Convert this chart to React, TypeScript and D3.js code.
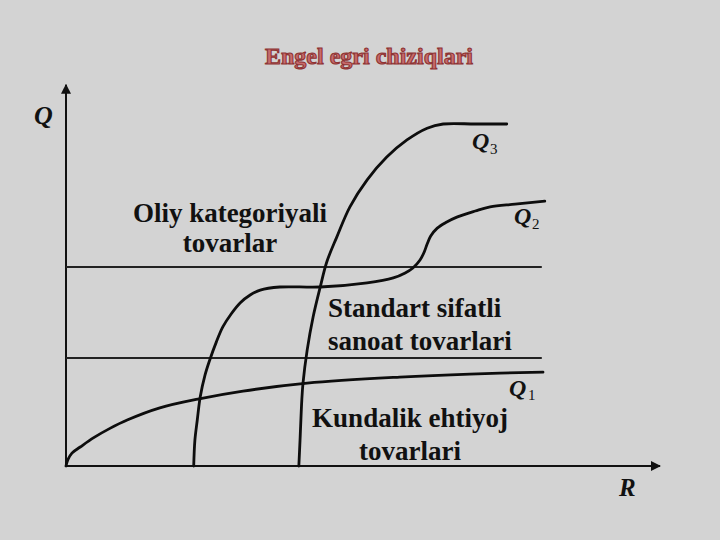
import React from "react";
import * as d3 from "d3";

// Engel curves: [R (income), Q (quantity)]
const q1Points: [number, number][] = [
  [0, 0], [0.3, 1.6], [1.0, 3.4], [2.4, 5.0], [4.6, 7.4], [7.4, 9.9], [10.3, 12.1],
  [15.8, 15.3], [22.2, 17.6], [29.8, 19.7], [40.6, 21.8], [56.2, 23.4], [68.0, 24.2], [80.3, 24.7],
];
const q2Points: [number, number][] = [
  [21.5, 0], [21.7, 6.8], [22.1, 12.1], [22.6, 18.2], [23.4, 23.9], [24.2, 27.9],
  [25.3, 32.6], [26.4, 36.6], [27.8, 40.0], [29.3, 42.9], [31.0, 45.0], [32.7, 46.3],
  [36.0, 47.1], [42.8, 47.1], [50.7, 48.2], [55.1, 49.5], [57.1, 50.8], [58.4, 52.1],
  [59.6, 54.2], [60.3, 56.3], [60.8, 58.4], [61.4, 60.5], [62.5, 62.6], [64.1, 64.2],
  [65.8, 65.5], [68.9, 67.1], [71.4, 68.2], [75.6, 68.9], [80.6, 69.7],
];
const q3Points: [number, number][] = [
  [39.2, 0], [39.4, 6.8], [39.7, 17.4], [39.9, 21.8], [40.6, 30.5], [41.6, 39.2],
  [42.8, 47.1], [43.9, 53.7], [45.6, 60.3], [47.8, 68.2], [50.7, 75.3], [54.0, 81.3],
  [57.4, 85.8], [60.8, 88.9], [63.5, 90.0], [68.9, 90.0], [74.2, 90.0],
];
// category boundaries (Q levels) and their extent in R
const boundaryLevels = [28.4, 52.4];
const boundaryEnd = 80.1;

const title = "Engel egri chiziqlari";
const yAxisLabel = "Q";
const xAxisLabel = "R";
const curveNames = ["1", "2", "3"];
const zoneLabels = [
  ["Oliy kategoriyali", "tovarlar"],
  ["Standart sifatli", "sanoat tovarlari"],
  ["Kundalik ehtiyoj", "tovarlari"],
];

const W = 720;
const H = 540;

export default function App() {
  const x = d3.scaleLinear().domain([0, 100]).range([66, 660]);
  const y = d3.scaleLinear().domain([0, 100]).range([466, 86]);

  const line = d3
    .line<[number, number]>()
    .x((d) => x(d[0]))
    .y((d) => y(d[1]))
    .curve(d3.curveCatmullRom.alpha(0.5));

  const serif = "'Liberation Serif', 'Times New Roman', serif";
  const textFill = "#111";

  const curves = [q1Points, q2Points, q3Points];
  const curveLabelPos = [
    { x: 509, y: 396, sx: 528, sy: 400 },
    { x: 514, y: 224, sx: 532, sy: 229 },
    { x: 472, y: 149, sx: 490, sy: 154 },
  ];

  return (
    <svg
      width={W}
      height={H}
      style={{ position: "absolute", left: 0, top: 0, display: "block" }}
    >
      <defs>
        <marker
          id="arrow"
          viewBox="0 0 10 10"
          refX="9"
          refY="5"
          markerWidth="10"
          markerHeight="10"
          markerUnits="userSpaceOnUse"
          orient="auto"
        >
          <path d="M0,0 L10,5 L0,10 z" fill="#111" />
        </marker>
      </defs>
      <rect x={0} y={0} width={W} height={H} fill="#d3d3d3" />

      <text
        x={369}
        y={64}
        textAnchor="middle"
        fontFamily={serif}
        fontWeight="bold"
        fontSize={24}
        fill="#c86b6b"
        stroke="#8e3434"
        strokeWidth={1.1}
      >
        {title}
      </text>

      {/* axes */}
      <line x1={x(0)} y1={y(0)} x2={x(0)} y2={y(100.3)} stroke="#111" strokeWidth={2} markerEnd="url(#arrow)" />
      <line x1={x(0)} y1={y(0)} x2={x(100)} y2={y(0)} stroke="#111" strokeWidth={2} markerEnd="url(#arrow)" />

      <text x={34} y={124} fontFamily={serif} fontWeight="bold" fontStyle="italic" fontSize={26} fill={textFill}>
        {yAxisLabel}
      </text>
      <text x={619} y={496} fontFamily={serif} fontWeight="bold" fontStyle="italic" fontSize={25} fill={textFill}>
        {xAxisLabel}
      </text>

      {/* boundaries */}
      {boundaryLevels.map((lv, i) => (
        <line key={i} x1={x(0)} x2={x(boundaryEnd)} y1={y(lv)} y2={y(lv)} stroke="#222" strokeWidth={2} />
      ))}

      {/* curves */}
      {curves.map((c, i) => (
        <path key={i} d={line(c) ?? ""} fill="none" stroke="#0d0d0d" strokeWidth={2.8} strokeLinecap="round" />
      ))}

      {curves.map((_, i) => (
        <g key={i} fontFamily={serif} fontWeight="bold" fill={textFill}>
          <text x={curveLabelPos[i].x} y={curveLabelPos[i].y} fontStyle="italic" fontSize={24}>
            Q
          </text>
          <text x={curveLabelPos[i].sx} y={curveLabelPos[i].sy} fontSize={15} fontWeight="normal">
            {curveNames[i]}
          </text>
        </g>
      ))}

      {/* zone labels */}
      <g fontFamily={serif} fontWeight="bold" fontSize={27} fill={textFill}>
        <text x={230} y={222} textAnchor="middle">{zoneLabels[0][0]}</text>
        <text x={230} y={252} textAnchor="middle">{zoneLabels[0][1]}</text>
        <text x={328} y={317}>{zoneLabels[1][0]}</text>
        <text x={328} y={350}>{zoneLabels[1][1]}</text>
        <text x={410} y={427} textAnchor="middle">{zoneLabels[2][0]}</text>
        <text x={410} y={460} textAnchor="middle">{zoneLabels[2][1]}</text>
      </g>
    </svg>
  );
}
